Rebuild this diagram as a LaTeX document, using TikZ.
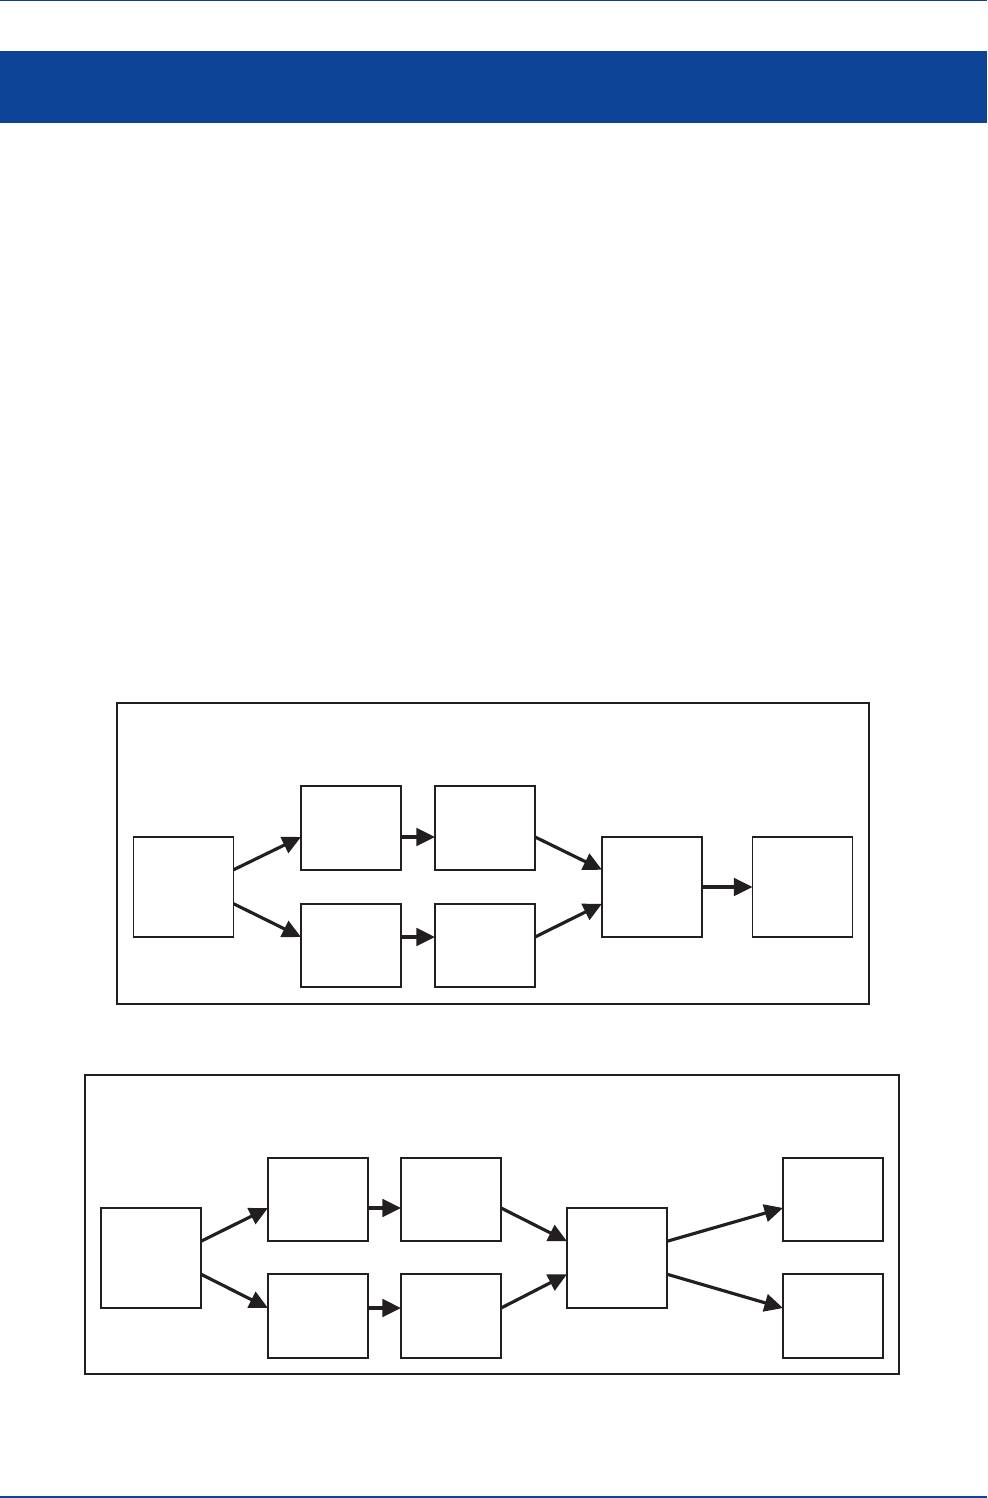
\documentclass[tikz,border=0pt]{standalone}
\usetikzlibrary{arrows.meta}
\definecolor{bandblue}{HTML}{0C4397}
\definecolor{inkblack}{HTML}{231F20}
\tikzset{
box/.style={draw=inkblack, line width=0.45pt, minimum width=1cm, minimum height=0.835cm, inner sep=0pt, outer sep=0pt},
bigbox/.style={box, minimum height=1cm},
flow/.style={draw=inkblack, line width=0.9pt, -{Triangle[length=0.185cm,width=0.175cm]}},
frame/.style={draw=inkblack, line width=0.5pt}
}
\begin{document}
\begin{tikzpicture}[x=0.01cm, y=-0.01cm]
\useasboundingbox (0,0) rectangle (987,1498);
% page rules and header band
\fill[bandblue] (0,0) rectangle (987,1.5);
\fill[bandblue] (0,51) rectangle (987,123);
\fill[bandblue] (0,1496) rectangle (987,1497.5);
% first chain
\draw[frame] (117,703) rectangle (869,1004);
\node[bigbox] (a0) at (183.5,887){};
\node[box] (a1) at (351,828){};
\node[box] (a2) at (485,828){};
\node[box] (a3) at (351,945.5){};
\node[box] (a4) at (485,945.5){};
\node[bigbox] (a5) at (652,887){};
\node[bigbox] (a6) at (802.5,887){};
\draw[flow](a0.east |- a1.south) -- (a1.west |- a0.north);
\draw[flow](a0.east |- a3.north) -- (a3.west |- a0.south);
\draw[flow](a1.east |- a0.north) -- (a2.west |- a0.north);
\draw[flow](a3.east |- a0.south) -- (a4.west |- a0.south);
\draw[flow](a2.east |- a5.north) -- (a5.west |- a2.south);
\draw[flow](a4.east |- a5.south) -- (a5.west |- a4.north);
\draw[flow](a5) -- (a6);
% second chain
\draw[frame] (85,1075) rectangle (899,1374);
\node[bigbox] (b0) at (151,1258){};
\node[box] (b1) at (318,1199.5){};
\node[box] (b2) at (451,1199.5){};
\node[box] (b3) at (318,1316){};
\node[box] (b4) at (451,1316){};
\node[bigbox] (b5) at (617,1258){};
\node[box] (b6) at (833,1199.5){};
\node[box] (b7) at (833,1316){};
\draw[flow](b0.east |- b1.south) -- (b1.west |- b0.north);
\draw[flow](b0.east |- b3.north) -- (b3.west |- b0.south);
\draw[flow](b1.east |- b0.north) -- (b2.west |- b0.north);
\draw[flow](b3.east |- b0.south) -- (b4.west |- b0.south);
\draw[flow](b2.east |- b5.north) -- (b5.west |- b2.south);
\draw[flow](b4.east |- b5.south) -- (b5.west |- b4.north);
\draw[flow](b5.east |- b6.south) -- (b6.west |- b5.north);
\draw[flow](b5.east |- b7.north) -- (b7.west |- b5.south);
\end{tikzpicture}
\end{document}
